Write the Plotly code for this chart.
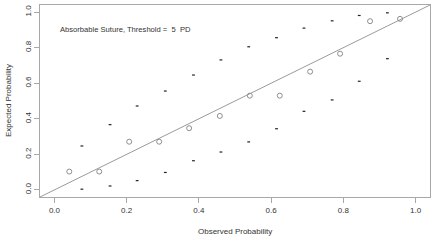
import plotly.graph_objects as go

# Observed vs expected (circles)
obs_x = [0.041, 0.124, 0.207, 0.290, 0.373, 0.458, 0.541, 0.624, 0.708, 0.791, 0.874, 0.957]
obs_y = [0.103, 0.103, 0.271, 0.271, 0.347, 0.416, 0.530, 0.530, 0.665, 0.766, 0.949, 0.962]

# Band limits (dash marks)
band_x = [0.076, 0.154, 0.229, 0.307, 0.385, 0.461, 0.538, 0.615, 0.691, 0.769, 0.844, 0.922]
band_upper = [0.247, 0.367, 0.472, 0.556, 0.646, 0.731, 0.805, 0.856, 0.910, 0.951, 0.981, 0.996]
band_lower = [0.004, 0.022, 0.052, 0.098, 0.164, 0.213, 0.270, 0.344, 0.442, 0.506, 0.611, 0.738]

tick_vals = [0.0, 0.2, 0.4, 0.6, 0.8, 1.0]
tick_text = ["0.0", "0.2", "0.4", "0.6", "0.8", "1.0"]
axis_range = [-0.04, 1.04]

FONT = "Liberation Sans, Arial, sans-serif"
TXT = "#333333"
GRID = "#a8a8a8"

fig = go.Figure()

# identity line
fig.add_trace(go.Scatter(x=axis_range, y=axis_range, mode="lines",
                         line=dict(color="#9a9a9a", width=1), hoverinfo="skip"))

fig.add_trace(go.Scatter(x=band_x + band_x, y=band_upper + band_lower, mode="markers",
                         marker=dict(symbol="line-ew", size=2, color="#222222",
                                     line=dict(color="#222222", width=1.2))))

fig.add_trace(go.Scatter(x=obs_x, y=obs_y, mode="markers",
                         marker=dict(symbol="circle-open", size=5, color="#8e8e8e",
                                     line=dict(color="#8e8e8e", width=1))))

axis_common = dict(range=axis_range, tickvals=tick_vals, ticktext=tick_text,
                   showgrid=False, zeroline=False, showline=True, mirror=True,
                   linecolor=GRID, linewidth=1, ticks="outside", ticklen=5,
                   tickcolor=GRID, tickwidth=1, automargin=False,
                   tickfont=dict(family=FONT, size=8, color=TXT))

fig.update_layout(
    width=437, height=241,
    margin=dict(l=40, r=7, t=5, b=44, autoexpand=False),
    paper_bgcolor="white", plot_bgcolor="white",
    showlegend=False,
    xaxis=axis_common,
    yaxis=dict(**axis_common, tickangle=-90),
    annotations=[
        dict(text="Absorbable Suture, Threshold =  5  PD", xref="paper", yref="paper",
             x=0.045, y=0.87, xanchor="left", yanchor="middle", showarrow=False,
             font=dict(family=FONT, size=7.6, color=TXT)),
        dict(text="Observed Probability", xref="paper", yref="paper",
             x=0.5, y=-0.178, xanchor="center", yanchor="middle", showarrow=False,
             font=dict(family=FONT, size=8, color=TXT)),
        dict(text="Expected Probability", xref="paper", yref="paper",
             x=-0.082, y=0.5, xanchor="center", yanchor="middle", showarrow=False,
             textangle=-90, font=dict(family=FONT, size=8, color=TXT)),
    ],
)

fig.write_html("out.html", config={"displayModeBar": False},
               post_script="document.body.style.margin='0';")
